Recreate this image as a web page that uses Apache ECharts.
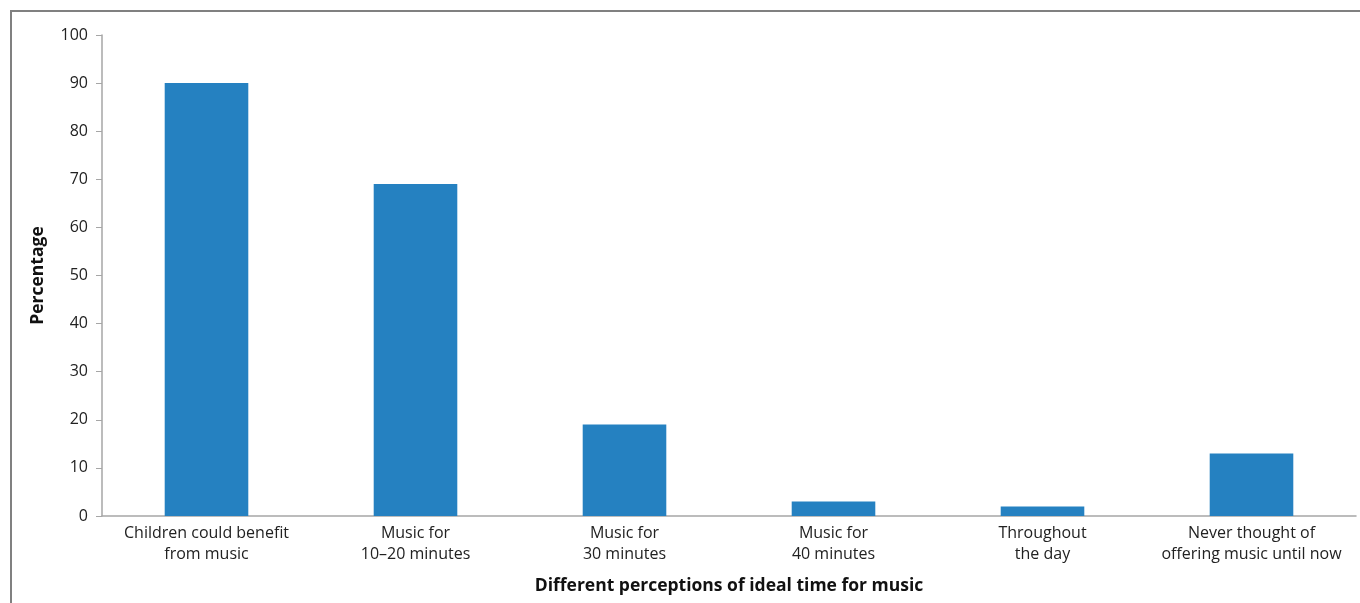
<!DOCTYPE html>
<html><head><meta charset="utf-8">
<script src="https://cdn.jsdelivr.net/npm/echarts@6/dist/echarts.min.js"></script>
<style>html,body{margin:0;padding:0;background:#fff}#c{width:1360px;height:603px}</style>
</head><body><div id="c"></div>
<script>
const categories = ["Children could benefit\nfrom music","Music for\n10–20 minutes","Music for\n30 minutes","Music for\n40 minutes","Throughout\nthe day","Never thought of\noffering music until now"];
const values = [90, 69, 19, 3, 2, 13];
const yTicks = [0,10,20,30,40,50,60,70,80,90,100];
const font = "'Open Sans', 'Liberation Sans', sans-serif";
const chart = echarts.init(document.getElementById('c'));
chart.setOption({
  animation:false,
  graphic:[{type:'rect',shape:{x:11,y:11,width:1400,height:700},style:{fill:'none',stroke:'#808080',lineWidth:2},silent:true}],
  grid:{left:102,right:4,top:35,bottom:87,containLabel:false},
  xAxis:{type:'category',data:categories,
    axisLine:{lineStyle:{color:'#a6a6a6',width:1.5}},axisTick:{show:false},
    axisLabel:{color:'#222',fontSize:16,fontFamily:font,lineHeight:21,margin:7,interval:0},
    name:'Different perceptions of ideal time for music',nameLocation:'middle',nameGap:61,
    nameTextStyle:{color:'#111',fontSize:17.5,fontWeight:'bold',fontFamily:font}},
  yAxis:{type:'value',min:0,max:100,interval:10,
    axisLine:{show:true,lineStyle:{color:'#a6a6a6',width:1.5}},
    axisTick:{show:true,length:6,lineStyle:{color:'#a6a6a6'}},
    splitLine:{show:false},
    axisLabel:{color:'#222',fontSize:16,fontFamily:font,margin:14,formatter:v=>yTicks.includes(v)?String(v):''},
    name:'Percentage',nameLocation:'middle',nameGap:55,
    nameTextStyle:{color:'#111',fontSize:17.5,fontWeight:'bold',fontFamily:font}},
  series:[{type:'bar',data:values,barWidth:'40%',itemStyle:{color:'#2581c1'}}]
});
</script></body></html>
